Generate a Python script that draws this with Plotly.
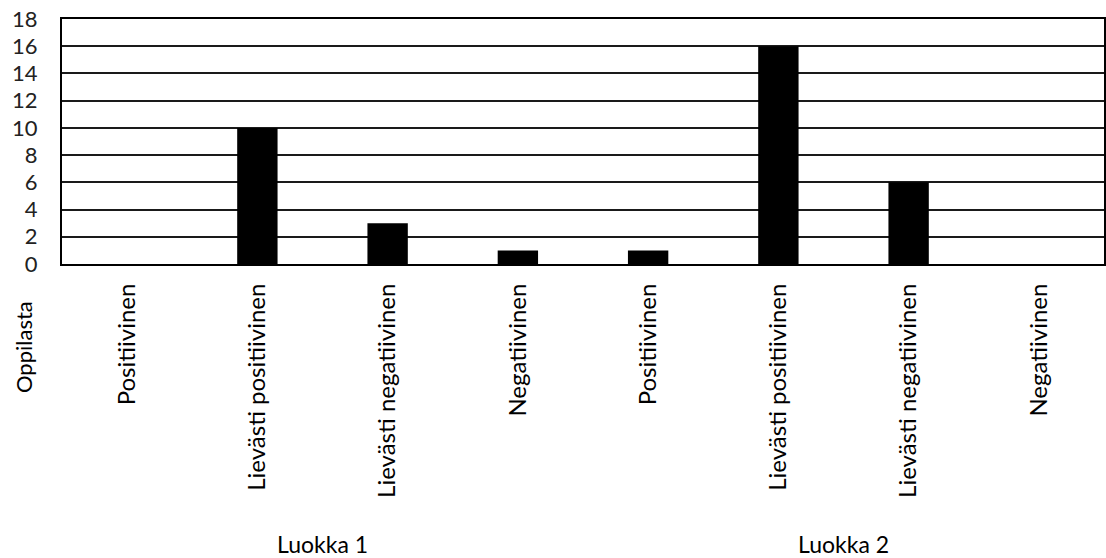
import plotly.graph_objects as go

# Oppilaiden vastaukset luokittain
categories = ["Positiivinen", "Lievästi positiivinen", "Lievästi negatiivinen", "Negatiivinen",
              "Positiivinen", "Lievästi positiivinen", "Lievästi negatiivinen", "Negatiivinen"]
values = [0, 10, 3, 1, 1, 16, 6, 0]
groups = ["Luokka 1", "Luokka 2"]
y_ticks = list(range(0, 19, 2))

FONT = "Lato"
positions = list(range(len(categories)))

fig = go.Figure(
    go.Bar(
        x=positions,
        y=values,
        marker=dict(color="black", line=dict(width=0)),
        width=0.31,
    )
)

fig.update_layout(
    width=1106,
    height=558,
    margin=dict(l=62, r=0, t=19, b=294),
    plot_bgcolor="white",
    paper_bgcolor="white",
    showlegend=False,
    font=dict(family=FONT, color="black"),
)

fig.update_xaxes(
    range=[-0.5, 7.5],
    tickmode="array",
    tickvals=positions,
    ticktext=categories,
    tickangle=-90,
    tickfont=dict(size=24, family=FONT, color="black"),
    ticklabelstandoff=8,
    showgrid=False,
    showline=True,
    linecolor="black",
    linewidth=2,
    mirror=True,
    ticks="",
)

fig.update_yaxes(
    range=[0, 18],
    tickmode="array",
    tickvals=y_ticks,
    tickfont=dict(size=22, family=FONT, color="#222"),
    ticklabelstandoff=18,
    showgrid=True,
    gridcolor="#1a1a1a",
    gridwidth=1.5,
    showline=True,
    linecolor="black",
    linewidth=2,
    mirror=True,
    ticks="",
    zeroline=False,
)

# Ryhmien nimet kategorioiden alle
for i, g in enumerate(groups):
    fig.add_annotation(
        x=1.5 + 4 * i, y=0, xref="x", yref="paper",
        yshift=-280, yanchor="middle", xanchor="center",
        text=g, showarrow=False,
        font=dict(size=23, family=FONT, color="black"),
    )

# Pystyakselin otsikko
fig.add_annotation(
    x=(23 - 62) / 1044, y=(264 - 347) / 245, xref="paper", yref="paper",
    xanchor="center", yanchor="middle",
    text="Oppilasta", showarrow=False, textangle=-90,
    font=dict(size=22, family=FONT, color="black"),
)

fig.write_html("out.html")
